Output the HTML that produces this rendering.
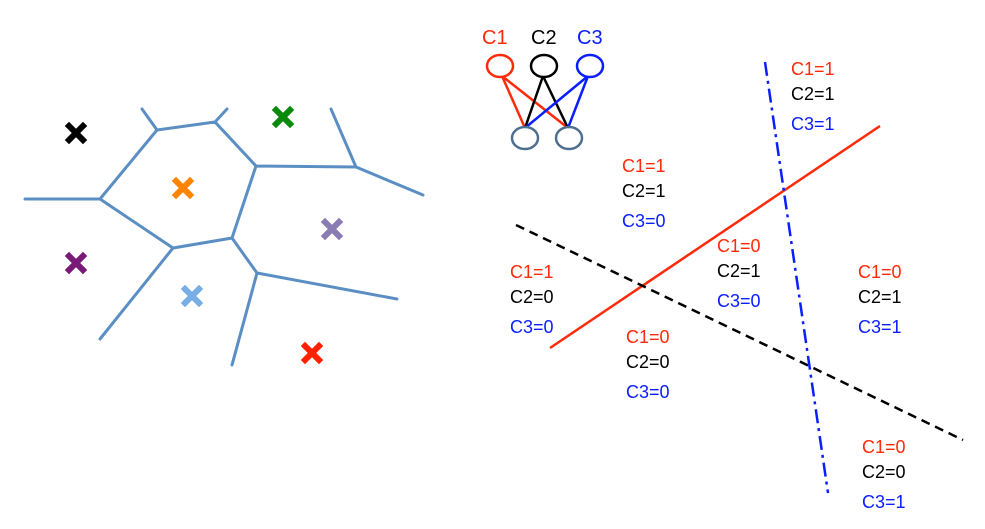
<!DOCTYPE html>
<html><head><meta charset="utf-8"><style>
body{margin:0;background:#fff}
svg{display:block}
text{font-family:"Liberation Sans",sans-serif;font-size:18px;fill:#111}
.r{fill:#ff2a0a}.k{fill:#000}.b{fill:#0a1eff}
.big{font-size:20px}
</style></head><body>
<svg width="985" height="529">
<g stroke="#5b8fc4" stroke-width="3" fill="none" stroke-linecap="round">
<path d="M142 109L157 130L215 122L227 109M215 122L256 166L356 167L331 109M356 167L423 195M157 130L100 199L25 199M100 199L173 248L232 238L256 166M232 238L257 273L397 299M173 248L100 339M257 273L232 365"/>
</g>
<g stroke-width="6" stroke-linecap="square">
<path d="M69 126L83 140M83 126L69 140" stroke="#000"/>
<path d="M276 110L290 124M290 110L276 124" stroke="#0a8a0a"/>
<path d="M176 181L190 195M190 181L176 195" stroke="#ff8400"/>
<path d="M325 222L339 236M339 222L325 236" stroke="#8c7cb6"/>
<path d="M69 256L83 270M83 256L69 270" stroke="#7a1a78"/>
<path d="M185 289L199 303M199 289L185 303" stroke="#78aee6"/>
<path d="M305 346L319 360M319 346L305 360" stroke="#ff2000"/>
</g>
<g stroke-width="2.5" fill="none">
<path d="M502 76L525 128M502 76L568 128" stroke="#ff2a0a"/>
<path d="M543 76L525 128M543 76L568 128" stroke="#000"/>
<path d="M588 76L525 128M588 76L568 128" stroke="#0a1eff"/>
<ellipse cx="500" cy="66" rx="13" ry="11" stroke="#ff2a0a" fill="#fff"/>
<ellipse cx="544" cy="66" rx="13" ry="11" stroke="#000" fill="#fff"/>
<ellipse cx="590" cy="66" rx="13" ry="11" stroke="#0a1eff" fill="#fff"/>
<ellipse cx="525" cy="138" rx="13" ry="11" stroke="#4f6f8f" fill="#fff"/>
<ellipse cx="569" cy="138" rx="13" ry="11" stroke="#4f6f8f" fill="#fff"/>
<text x="482" y="44" class="r big" stroke="none">C1</text>
<text x="531" y="44" class="k big" stroke="none">C2</text>
<text x="577" y="44" class="b big" stroke="none">C3</text>
</g>
<line x1="550" y1="348" x2="880" y2="126" stroke="#ff2a0a" stroke-width="2.5"/>
<line x1="516" y1="225" x2="963" y2="440" stroke="#000" stroke-width="2.5" stroke-dasharray="9 6"/>
<line x1="765" y1="62" x2="828" y2="493" stroke="#0a1eff" stroke-width="2.5" stroke-dasharray="14 5 3 5"/>
<g>
<text x="791" y="75" class="r">C1=1</text><text x="791" y="100" class="k">C2=1</text><text x="791" y="130" class="b">C3=1</text>
<text x="622" y="172" class="r">C1=1</text><text x="622" y="197" class="k">C2=1</text><text x="622" y="227" class="b">C3=0</text>
<text x="717" y="252" class="r">C1=0</text><text x="717" y="277" class="k">C2=1</text><text x="717" y="307" class="b">C3=0</text>
<text x="510" y="278" class="r">C1=1</text><text x="510" y="303" class="k">C2=0</text><text x="510" y="333" class="b">C3=0</text>
<text x="858" y="278" class="r">C1=0</text><text x="858" y="303" class="k">C2=1</text><text x="858" y="333" class="b">C3=1</text>
<text x="626" y="343" class="r">C1=0</text><text x="626" y="368" class="k">C2=0</text><text x="626" y="398" class="b">C3=0</text>
<text x="862" y="453" class="r">C1=0</text><text x="862" y="478" class="k">C2=0</text><text x="862" y="508" class="b">C3=1</text>
</g>
</svg>
</body></html>
